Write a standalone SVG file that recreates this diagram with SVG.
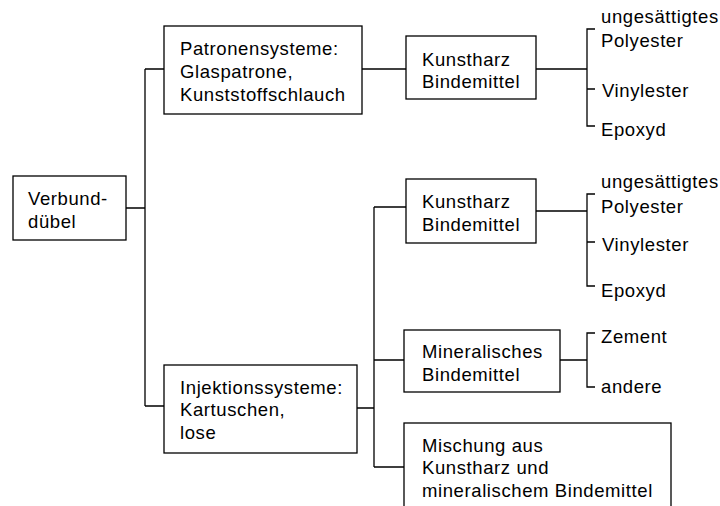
<svg xmlns="http://www.w3.org/2000/svg" width="720" height="506" viewBox="0 0 720 506">
<style>
.box{fill:#fff;stroke:#000;stroke-width:1.3}
.ln{fill:none;stroke:#000;stroke-width:1.3}
text{font-family:"Liberation Sans",Arial,sans-serif;font-size:18.5px;letter-spacing:0.6px;fill:#000}
</style>
<rect width="720" height="506" fill="#fff"/>
<g id="connectors">
<path class="ln" d="M126,208 H145 M145,69 V406 M145,69 H164 M145,406 H164"/>
<path class="ln" d="M362,69 H406"/>
<path class="ln" d="M536,69 H587 M595,29 H587 V126 H595 M587,89 H595"/>
<path class="ln" d="M357,408 H374 M374,207 V467 M374,207 H406 M374,360 H404 M374,467 H404"/>
<path class="ln" d="M536,211 H587 M595,194 H587 V286 H595 M587,242 H595"/>
<path class="ln" d="M560,360 H587 M595,333 H587 V387 H595"/>
</g>
<g id="verbund">
<rect class="box" x="13" y="176" width="113" height="64"/>
<text x="28" y="205">Verbund-</text>
<text x="28" y="228">dübel</text>
</g>
<g id="patronen">
<rect class="box" x="164" y="26" width="198" height="88"/>
<text x="180" y="55">Patronensysteme:</text>
<text x="180" y="78">Glaspatrone,</text>
<text x="180" y="101">Kunststoffschlauch</text>
</g>
<g id="injektion">
<rect class="box" x="164" y="365" width="193" height="88"/>
<text x="180" y="394">Injektionssysteme:</text>
<text x="180" y="416">Kartuschen,</text>
<text x="180" y="439">lose</text>
</g>
<g id="kunstharz1">
<rect class="box" x="406" y="36" width="130" height="63"/>
<text x="422" y="66">Kunstharz</text>
<text x="422" y="88">Bindemittel</text>
</g>
<g id="kunstharz2">
<rect class="box" x="406" y="179" width="130" height="64"/>
<text x="422" y="208">Kunstharz</text>
<text x="422" y="231">Bindemittel</text>
</g>
<g id="mineralisch">
<rect class="box" x="404" y="330" width="156" height="62"/>
<text x="422" y="358">Mineralisches</text>
<text x="422" y="381">Bindemittel</text>
</g>
<g id="mischung">
<rect class="box" x="404" y="423" width="267" height="100"/>
<text x="422" y="452">Mischung aus</text>
<text x="422" y="474">Kunstharz und</text>
<text x="422" y="497">mineralischem Bindemittel</text>
</g>
<g id="leaves1">
<text x="601" y="23">ungesättigtes</text>
<text x="601" y="47">Polyester</text>
<text x="602" y="97">Vinylester</text>
<text x="601" y="136">Epoxyd</text>
</g>
<g id="leaves2">
<text x="601" y="188">ungesättigtes</text>
<text x="601" y="213">Polyester</text>
<text x="602" y="251">Vinylester</text>
<text x="601" y="297">Epoxyd</text>
</g>
<g id="leaves3">
<text x="601" y="343">Zement</text>
<text x="601" y="393">andere</text>
</g>
</svg>
